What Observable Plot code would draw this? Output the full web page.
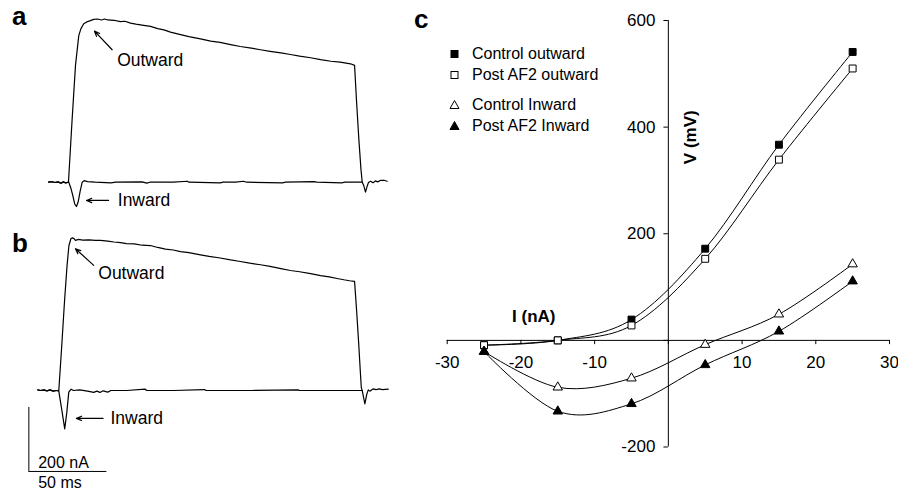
<!DOCTYPE html>
<html>
<head>
<meta charset="utf-8">
<script src="https://cdn.jsdelivr.net/npm/d3@7"></script>
<script src="https://cdn.jsdelivr.net/npm/@observablehq/plot@0.6"></script>
<style>
  html, body { margin: 0; padding: 0; background: #fff; }
  #wrap { position: relative; width: 898px; height: 491px; overflow: hidden; font-family: "Liberation Sans", Arial, sans-serif; color: #000; }
  .abs { position: absolute; }
  .panel { font-weight: bold; font-size: 26px; line-height: 26px; }
  .leg { position: absolute; height: 20px; line-height: 20px; font-size: 16px; white-space: nowrap; }
</style>
</head>
<body>
<div id="wrap"></div>
<script>
// ---------- Panel c data (I-V relationship) ----------
const seriesNames = ["Control outward", "Post AF2 outward", "Control Inward", "Post AF2 Inward"];
const currentSteps = [-25, -15, -5, 5, 15, 25];           // I (nA)
const controlOutward = [-9, 0, 39, 172, 367, 541];         // V (mV)
const postAF2Outward = [-9, 0, 28, 153, 339, 510];
const controlInward = [-21, -88, -71, -8, 49, 143];
const postAF2Inward = [-21, -133, -119, -46, 17, 111];
const xTicks = [-30, -20, -10, 0, 10, 20, 30];
const xTickLabels = ["-30", "-20", "-10", "", "10", "20", "30"];
const yTicks = [-200, 0, 200, 400, 600];
const yTickLabels = ["-200", "", "200", "400", "600"];

// ---------- Panels a, b data (current traces: [time ms, current nA]) ----------
const traceAOutward = [[0,0],[2,2],[4,-1],[6,1],[8,-3],[9.5,1],[11,-2],[12.8,0],[15.1,193],[17.3,365],[19.4,458],[20.8,480],[22.6,495],[24.5,501],[26.9,505],[29,509],[31.4,510],[34,507],[36,510],[38,507],[42,506],[46,502],[49,503],[52.6,497],[56,494],[60,491],[65.4,487],[70,480],[74,476],[78.2,469],[84,462],[90,455],[97.4,448],[104,441],[110,437],[116.7,430],[123,424],[130,419],[135.9,414],[142,409],[149,404],[155.1,399],[161,394],[168,389],[174.4,383],[181,378],[187,375],[193.6,370],[196.2,365],[197.5,250],[199,130],[200.3,40],[201.1,0],[202.2,-12],[203.2,-31],[204.2,-14],[205.1,-1],[206.5,3],[208,-2],[209.5,4],[211,1],[213,6],[215,6],[217.1,3]];
const traceAInward = [[0,0],[2,2],[4,-1],[6,1],[8,-3],[9.5,1],[11,-2],[13,0],[14.3,-18],[15.5,-40],[16.8,-68],[17.9,-76],[19,-62],[20.3,-28],[21.6,0],[22.8,5],[25,2],[30,0],[40,-2],[43,0],[60,1],[63,-3],[65,0],[80,0],[89,3],[90,0],[110,-2],[112,0],[120,0],[125,3],[127,0],[150,-2],[152,0],[170,2],[172,0],[188,-2],[190,0],[201.1,0]];
const traceBOutward = [[-6.9,2],[-5,0],[-3,2],[-1,-1],[1,2],[3,-2],[5,0],[6.6,0],[8.3,125],[10.3,281],[11.9,391],[13.1,453],[14.4,475],[15.4,477],[16.5,474],[17.3,469],[19,472],[22,470],[26,471],[30,469],[33.3,469],[38,467],[42,464],[46.2,462],[50,459],[55,458],[60,454],[65.4,453],[70,447],[75,442],[80,439],[84.6,434],[90,431],[97.4,424],[103,419],[110,414],[116.7,408],[122,404],[129,398],[135.9,393],[142,388],[149,381],[155.1,375],[161,371],[168,365],[174.4,359],[180,355],[185,350],[189.3,346],[193,343],[196.2,341],[197.5,250],[198.8,150],[200,50],[200.5,10],[201.3,-5],[202.8,-42],[204,-12],[205,2],[206,-2],[208,5],[210,3],[212,5],[214,3],[217.8,4]];
const traceBInward = [[-6.9,2],[-5,0],[-3,2],[-1,-1],[1,2],[3,-2],[5,0],[6.6,-2],[8.5,-60],[10.4,-120],[11.7,-70],[13,-5],[14.5,4],[16,0],[20,2],[25,-2],[29,-6],[31,-2],[33,-6],[35,-1],[38,-5],[40,0],[50,0],[62,4],[63,0],[80,0],[100,3],[101,0],[130,0],[160,2],[161,0],[200,0],[201.3,0]];

// annotations (in data units of each trace panel)
const aLabels = [{text: "Outward", t: 44, i: 380}, {text: "Inward", t: 44.4, i: -57}];
const aArrows = [{t1: 40.8, i1: 414, t2: 29.5, i2: 472}, {t1: 38.5, i1: -57, t2: 24.4, i2: -57}];
const bLabels = [{text: "Outward", t: 31.9, i: 367}, {text: "Inward", t: 39.7, i: -87}];
const bArrows = [{t1: 29, i1: 391, t2: 17.3, i2: 443}, {t1: 35, i1: -87, t2: 17.9, i2: -87}];
const scaleBarCurrent = 200;  // nA
const scaleBarTime = 50;      // ms
const scaleBarOrigin = {t: -12.6, i: -253};
const scaleBarLabels = [{text: "200 nA", t: -6.6, i: -225}, {text: "50 ms", t: -6.6, i: -290}];

const FONT = "Liberation Sans, Arial, sans-serif";
const wrap = document.getElementById("wrap");
const baseStyle = {background: "none", overflow: "visible", fontFamily: FONT, fontSize: "17px", color: "black"};

function place(el, left, top) {
  el.style.position = "absolute";
  el.style.left = left + "px";
  el.style.top = top + "px";
  wrap.appendChild(el);
}

function tracePanel(outward, inward, labels, arrows, opts, extra) {
  const toObj = (arr) => arr.map(([t, i]) => ({t, i}));
  return Plot.plot({
    width: 420, height: opts.height,
    marginLeft: 16.8, marginRight: 13.2, marginTop: opts.mt, marginBottom: opts.mb,
    x: {domain: [-20, 230], axis: null},
    y: {domain: opts.ydomain, axis: null},
    style: baseStyle,
    marks: [
      Plot.line(toObj(inward), {x: "t", y: "i", stroke: "black", strokeWidth: 1.2}),
      Plot.line(toObj(outward), {x: "t", y: "i", stroke: "black", strokeWidth: 1.2}),
      Plot.arrow(arrows, {x1: "t1", y1: "i1", x2: "t2", y2: "i2", stroke: "black", strokeWidth: 1.2, headLength: 7, headAngle: 45}),
      Plot.text(labels, {x: "t", y: "i", text: "text", textAnchor: "start", fontSize: 17.5, fill: "black"}),
      ...extra
    ]
  });
}

// Panel a
place(tracePanel(traceAOutward, traceAInward, aLabels, aArrows,
  {height: 220, mt: 2.5, mb: 6.3, ydomain: [-100, 560]}, []), 0, 0);

// Panel b with scale bar
const sb = scaleBarOrigin;
place(tracePanel(traceBOutward, traceBInward, bLabels, bArrows,
  {height: 271, mt: 3.6, mb: 5, ydomain: [-300, 520]}, [
    Plot.ruleX([sb], {x: "t", y1: "i", y2: d => d.i + scaleBarCurrent, stroke: "black", strokeWidth: 1}),
    Plot.ruleY([sb], {y: "i", x1: "t", x2: d => d.t + scaleBarTime, stroke: "black", strokeWidth: 1}),
    Plot.text(scaleBarLabels, {x: "t", y: "i", text: "text", textAnchor: "start", fontSize: 16, fill: "black"})
  ]), 0, 220);

// Panel c
const seriesValues = [controlOutward, postAF2Outward, controlInward, postAF2Inward];
const rows = seriesNames.flatMap((s, k) => currentSteps.map((I, j) => ({series: s, I, V: seriesValues[k][j]})));
const symbolFor = ["square", "square", "triangle", "triangle"];
const fillFor = ["black", "white", "white", "black"];
const rFor = [3.9, 3.9, 3.5, 3.5];
const xT = xTicks.map((v, k) => ({v, label: xTickLabels[k]})).filter(d => d.label);
const yT = yTicks.map((v, k) => ({v, label: yTickLabels[k]})).filter(d => d.label);

const plotC = Plot.plot({
  width: 478, height: 491,
  marginLeft: 26.7, marginRight: 9, marginTop: 20, marginBottom: 44.5,
  x: {domain: [xTicks[0], xTicks[xTicks.length - 1]], axis: null},
  y: {domain: [yTicks[0], yTicks[yTicks.length - 1]], axis: null},
  style: {...baseStyle, overflow: "hidden"},
  marks: [
    Plot.ruleY([0], {x1: () => xTicks[0], x2: () => xTicks[xTicks.length - 1], stroke: "black", strokeWidth: 1}),
    Plot.ruleX([0], {y1: () => yTicks[0], y2: () => yTicks[yTicks.length - 1], stroke: "black", strokeWidth: 1}),
    Plot.ruleX(xTicks, {x: d => d, y1: () => 0, y2: () => -8, stroke: "black", strokeWidth: 1}),
    Plot.ruleY(yTicks, {y: d => d, x1: () => -0.6, x2: () => 0, stroke: "black", strokeWidth: 1}),
    Plot.text(xT, {x: "v", y: () => 0, dy: 22, text: "label", fontSize: 17, fill: "black"}),
    Plot.text(yT, {x: () => 0, y: "v", dx: -13, text: "label", textAnchor: "end", fontSize: 17, fill: "black"}),
    Plot.line(rows, {x: "I", y: "V", z: "series", curve: "cardinal", stroke: "black", strokeWidth: 1}),
    ...seriesNames.map((s, k) => Plot.dot(rows.filter(d => d.series === s), {
      x: "I", y: "V", symbol: () => symbolFor[k], r: rFor[k], fill: fillFor[k], stroke: "black", strokeWidth: 1
    })),
    Plot.text(["I (nA)"], {x: () => -21.2, y: () => 45.6, text: d => d, textAnchor: "start", fontWeight: "bold", fontSize: 17, fill: "black"}),
    Plot.text(["V (mV)"], {x: () => 3.0, y: () => 381, text: d => d, rotate: -90, fontWeight: "bold", fontSize: 17, fill: "black"})
  ]
});
place(plotC, 420, 0);

// Panel letters
[["a", 12, 3], ["b", 12, 230], ["c", 414, 6]].forEach(([t, l, tp]) => {
  const d = document.createElement("div");
  d.className = "abs panel";
  d.textContent = t;
  d.style.left = l + "px"; d.style.top = tp + "px";
  wrap.appendChild(d);
});

// Legend for panel c
const legendRowsY = [54, 74.5, 105, 125.5];
seriesNames.forEach((s, k) => {
  const row = document.createElement("div");
  row.className = "leg";
  row.style.left = "448px";
  row.style.top = (legendRowsY[k] - 10) + "px";
  const sym = symbolFor[k] === "square"
    ? `<rect x="3" y="6.5" width="7" height="7" fill="${fillFor[k]}" stroke="black" stroke-width="1"/>`
    : `<path d="M6.5,5.5 L11,13.5 L2,13.5 Z" fill="${fillFor[k]}" stroke="black" stroke-width="1"/>`;
  row.innerHTML = `<svg width="14" height="20" style="position:absolute;left:0;top:0">${sym}</svg><span style="position:absolute;left:24px;top:0">${s}</span>`;
  wrap.appendChild(row);
});
</script>
</body>
</html>
